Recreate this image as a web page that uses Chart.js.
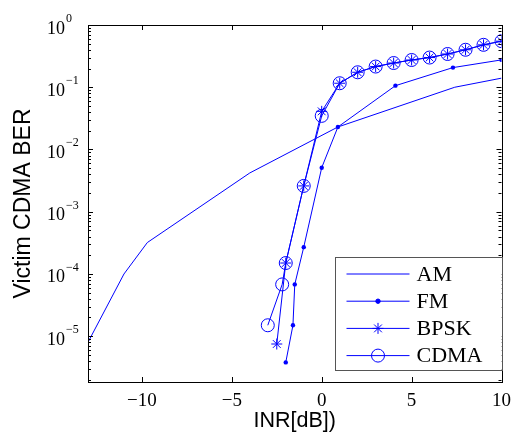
<!DOCTYPE html>
<html lang="en">
<head>
  <meta charset="UTF-8">
  <title>Victim CDMA BER vs INR</title>
  <script src="https://cdn.jsdelivr.net/npm/chart.js@4.4.3/dist/chart.umd.min.js"></script>
  <style>
    body { margin: 0; background: #fff; }
    canvas { display: block; }
  </style>
</head>
<body>
  <canvas id="berChart" width="521" height="442"></canvas>

  <script>
    // values
    const amX = [-13, -11, -9.7, -4, 0.9, 7.4, 10];
    const amY = [8.0e-6, 1.0e-4, 3.2e-4, 4.2e-3, 2.3e-2, 1.0e-1, 1.4e-1];

    const fmX = [-2, -1.6, -1.5, -1, 0, 0.9, 4.1, 7.3, 10];
    const fmY = [3.8e-6, 1.5e-5, 6.8e-5, 2.7e-4, 5.1e-3, 2.3e-2, 0.106, 0.207, 0.275];

    const bpskX = [-2.5, -2, -1, 0, 1, 2, 3, 4, 5, 6, 7, 8, 9, 10];
    const bpskY = [7.5e-6, 1.5e-4, 2.6e-3, 0.041, 0.116, 0.174, 0.215, 0.245, 0.274, 0.30, 0.342, 0.40, 0.48, 0.55];

    const cdmaX = [-3, -2.2, -2, -1, 0, 1, 2, 3, 4, 5, 6, 7, 8, 9, 10];
    const cdmaY = [1.5e-5, 6.8e-5, 1.5e-4, 2.6e-3, 0.0347, 0.116, 0.174, 0.215, 0.245, 0.274, 0.30, 0.342, 0.40, 0.48, 0.55];

    const xTickValues = [-10, -5, 0, 5, 10];
    const yDecades = [0, -1, -2, -3, -4, -5];

    const pts = (xs, ys) => xs.map((x, i) => ({ x: x, y: ys[i] }));
    const blue = '#0000ff';
    const serif = "'Liberation Serif', 'DejaVu Serif', serif";
    const sans = "'Liberation Sans', Arial, sans-serif";

    // MATLAB-style frame, inward ticks and 10^n labels
    const framePlugin = {
      id: 'frame',
      afterDraw(chart) {
        const ctx = chart.ctx;
        const a = chart.chartArea;
        const xs = chart.scales.x, ys = chart.scales.y;
        ctx.save();
        ctx.strokeStyle = '#000';
        ctx.lineWidth = 1;
        ctx.beginPath();
        xTickValues.forEach(v => {
          const px = Math.round(xs.getPixelForValue(v)) + 0.5;
          ctx.moveTo(px, a.bottom); ctx.lineTo(px, a.bottom - 5);
          ctx.moveTo(px, a.top); ctx.lineTo(px, a.top + 5);
        });
        for (let e = -6; e <= 0; e++) {
          for (let m = 1; m <= 9; m++) {
            const v = m * Math.pow(10, e);
            if (v < ys.min || v > ys.max) continue;
            const py = Math.round(ys.getPixelForValue(v)) + 0.5;
            const len = m === 1 ? 5 : 3;
            ctx.moveTo(a.left, py); ctx.lineTo(a.left + len, py);
            ctx.moveTo(a.right, py); ctx.lineTo(a.right - len, py);
          }
        }
        ctx.stroke();
        ctx.strokeRect(Math.round(a.left) + 0.5, Math.round(a.top) + 0.5,
          Math.round(a.right - a.left), Math.round(a.bottom - a.top));

        ctx.fillStyle = '#000';
        ctx.textBaseline = 'alphabetic';
        yDecades.forEach(e => {
          const py = ys.getPixelForValue(Math.pow(10, e));
          ctx.font = '18px ' + serif;
          ctx.textAlign = 'right';
          ctx.fillText('10', 65, py + 8.5);
          ctx.font = '12px ' + serif;
          ctx.textAlign = 'left';
          ctx.fillText(e === 0 ? '0' : '\u2212' + (-e), 66, py - 3);
        });
        ctx.restore();
      }
    };

    // boxed legend in the lower right corner
    const legendPlugin = {
      id: 'boxLegend',
      afterDraw(chart) {
        const ctx = chart.ctx;
        const a = chart.chartArea;
        const bx = a.right - 167, by = a.bottom - 125, bw = 167, bh = 113;
        ctx.save();
        ctx.fillStyle = '#fff';
        ctx.fillRect(bx, by, bw, bh);
        ctx.strokeStyle = '#555';
        ctx.lineWidth = 1;
        ctx.strokeRect(Math.round(bx) + 0.5, Math.round(by) + 0.5, bw, bh);
        chart.data.datasets.forEach((ds, i) => {
          const y = by + 17 + i * 27.2;
          ctx.strokeStyle = ds.borderColor;
          ctx.lineWidth = 1;
          ctx.beginPath();
          ctx.moveTo(bx + 12, y); ctx.lineTo(bx + 75, y);
          ctx.stroke();
          if (ds.pointRadius > 0) {
            ctx.fillStyle = ds.pointBackgroundColor;
            ctx.strokeStyle = ds.pointBorderColor;
            ctx.lineWidth = 1;
            Chart.helpers.drawPoint(ctx, {
              pointStyle: ds.pointStyle,
              radius: ds.pointRadius,
              borderWidth: 1
            }, bx + 43.5, y);
          }
          ctx.fillStyle = '#000';
          ctx.font = '22px ' + serif;
          ctx.textAlign = 'left';
          ctx.textBaseline = 'middle';
          ctx.fillText(ds.label, bx + 82, y + 1);
        });
        ctx.restore();
      }
    };

    new Chart(document.getElementById('berChart'), {
      type: 'line',
      data: {
        datasets: [
          {
            label: 'AM', data: pts(amX, amY),
            borderColor: blue, borderWidth: 1, pointRadius: 0,
            pointBackgroundColor: blue, pointBorderColor: blue, tension: 0
          },
          {
            label: 'FM', data: pts(fmX, fmY),
            borderColor: blue, borderWidth: 1, pointStyle: 'circle', pointRadius: 2.2,
            pointBackgroundColor: blue, pointBorderColor: blue, pointBorderWidth: 0, tension: 0
          },
          {
            label: 'BPSK', data: pts(bpskX, bpskY),
            borderColor: blue, borderWidth: 1, pointStyle: 'star', pointRadius: 5.5,
            pointBackgroundColor: 'rgba(0,0,0,0)', pointBorderColor: blue, pointBorderWidth: 1, tension: 0
          },
          {
            label: 'CDMA', data: pts(cdmaX, cdmaY),
            borderColor: blue, borderWidth: 1, pointStyle: 'circle', pointRadius: 6.5,
            pointBackgroundColor: 'rgba(0,0,0,0)', pointBorderColor: blue, pointBorderWidth: 1, tension: 0
          }
        ]
      },
      options: {
        responsive: false,
        animation: false,
        devicePixelRatio: 1,
        layout: { padding: { top: 25, right: 19.5, left: 0, bottom: 0 } },
        plugins: { legend: { display: false }, tooltip: { enabled: false } },
        scales: {
          x: {
            type: 'linear', min: -13, max: 10,
            grid: { display: false, drawTicks: false },
            border: { display: false },
            afterBuildTicks: s => { s.ticks = xTickValues.map(v => ({ value: v })); },
            afterFit: s => { s.height = 60; },
            ticks: {
              color: '#000', padding: 8, maxRotation: 0,
              font: { family: serif, size: 19 },
              callback: v => (v < 0 ? '\u2212' + (-v) : String(v))
            },
            title: {
              display: true, text: 'INR[dB])', color: '#000',
              font: { family: sans, size: 21.5 }, padding: { bottom: 8 }
            }
          },
          y: {
            type: 'logarithmic', min: 1.84e-6, max: 1,
            grid: { display: false, drawTicks: false },
            border: { display: false },
            afterFit: s => { s.width = 88; },
            ticks: { display: false },
            title: {
              display: true, text: 'Victim CDMA BER', color: '#000',
              font: { family: sans, size: 23 }, padding: { top: 10 }
            }
          }
        }
      },
      plugins: [framePlugin, legendPlugin]
    });
  </script>
</body>
</html>
